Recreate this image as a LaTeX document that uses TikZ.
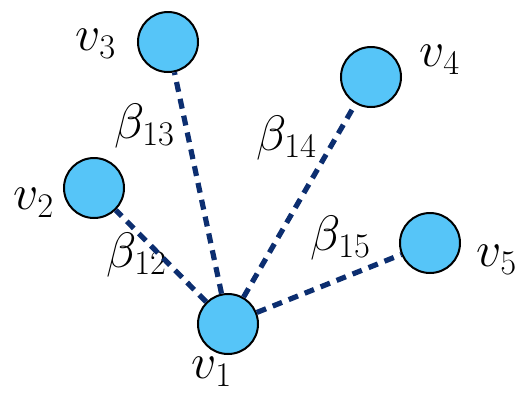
\documentclass[tikz,border=0pt]{standalone}
\usepackage{amsmath}
\usepackage{tikz}
\definecolor{nodeblue}{RGB}{86,197,248}
\definecolor{edgenavy}{RGB}{12,46,112}

\begin{document}
\begin{tikzpicture}[x=0.5pt,y=-0.5pt]
        \tikzstyle{vertex} = [circle, draw=black, line width=1pt, fill=nodeblue, minimum size=30pt, inner sep=0pt]
        \tikzstyle{edge} = [edgenavy, line width=2.6pt, dash pattern=on 5pt off 3.6pt]
        \tikzstyle{lbl} = [font=\fontsize{26.5}{30}\selectfont]
        \useasboundingbox (0,0) rectangle (532,408);
        \node[vertex] (v1) at (228,324) {};
        \node[vertex] (v2) at (94,188) {};
        \node[vertex] (v3) at (168,42) {};
        \node[vertex] (v4) at (371,77) {};
        \node[vertex] (v5) at (430,243) {};
        \node[lbl] (l1) at (212,372) {$v_1$};
        \node[lbl] (l2) at (34,203) {$v_2$};
        \node[lbl] (l3) at (96,44) {$v_3$};
        \node[lbl] (l4) at (440,60) {$v_4$};
        \node[lbl] (l5) at (497,260) {$v_5$};
        \node[lbl] (b12) at (137,255) {$\beta_{12}$};
        \node[lbl] (b13) at (145,126) {$\beta_{13}$};
        \node[lbl] (b14) at (287,138) {$\beta_{14}$};
        \node[lbl] (b15) at (341,238) {$\beta_{15}$};
        \foreach \to in {v2, v3, v4, v5}
            \draw[edge] (v1) -- (\to);
\end{tikzpicture}
\end{document}
